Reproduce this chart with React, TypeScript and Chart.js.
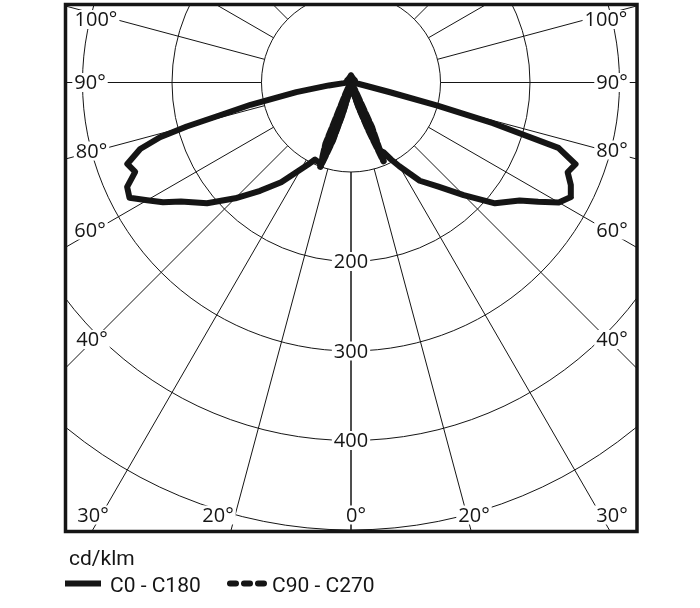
import React, { useEffect, useRef } from "react";
import { Chart, registerables } from "chart.js";

Chart.register(...registerables);

// ---- Data (cd/klm versus gamma angle, degrees) ----
const gammaAngles = [0, 5, 10, 12.5, 15, 17.5, 20, 22.5, 25, 27.5, 30, 35, 40, 45, 50, 55, 57.5, 60, 62.5, 65, 67.5, 70, 72.5, 74, 75, 76, 77.5, 80, 82.5, 85, 90, 120, 150, 180];
const c0Values = [3, 3, 4, 8, 15, 30, 50, 82, 86, 97, 108, 134, 152, 178, 210, 230, 248, 268, 277, 271, 262, 267, 243, 165, 100, 45, 18, 8, 6, 5, 5, 5, 5, 8];
const c180Values = [3, 3, 5, 15, 35, 65, 97, 96, 95, 103, 112, 136, 158, 183, 210, 232, 249, 263, 279, 276, 261, 266, 247, 222, 190, 150, 115, 62, 25, 8, 5, 5, 5, 8];

const gammaSpike = [0, 5, 10, 12.5, 15, 17.5, 20, 22.5, 25, 27.5, 30, 45, 90, 135, 180];
const c90Values = [3, 3, 4, 8, 15, 30, 55, 95, 55, 10, 4, 3, 3, 3, 5];
const c270Values = [3, 3, 5, 15, 35, 68, 100, 74, 15, 5, 4, 3, 3, 3, 5];

const ringValues = [100, 200, 300, 400, 500];
const ringLabelValues = [200, 300, 400];
const spokeAngles = [0, 15, 30, 45, 60, 75, 90, 105, 120, 135, 150, 165, 180];
const angleTickLabels = ["100°", "90°", "80°", "60°", "40°", "30°", "20°", "0°"];
const unitLabel = "cd/klm";
const seriesNames = ["C0 - C180", "C90 - C270"];

// ---- Layout ----
const W = 700;
const H = 608;
const CX = 351;
const CY = 82.5;
const PX_PER_UNIT = 0.895;
const BOX = { l: 65.5, t: 4.5, r: 637, b: 531.5 };
const INK = "#151515";
const LABEL_FONT = "20px 'Open Sans'";
const LEGEND_FONT = "21px Roboto";

const leftLabelPos = [
  [96, 19.5], [90, 82.5], [91.5, 151], [90, 230], [92, 339.5], [93, 515], [218, 515],
];
const rightLabelPos = [
  [606, 19.5], [612, 82.5], [612, 150], [612, 230], [612, 339.5], [612, 515], [474, 515],
];
const zeroLabelPos = [356, 515];

function toXY(angles: number[], vals: number[], side: number) {
  return angles.map((a, i) => ({
    x: side * vals[i] * Math.sin((a * Math.PI) / 180),
    y: -vals[i] * Math.cos((a * Math.PI) / 180),
  }));
}
function loop(angles: number[], left: number[], right: number[]) {
  return [...toXY(angles, left, -1).reverse(), ...toXY(angles, right, 1)];
}

function labelWithBg(ctx: CanvasRenderingContext2D, text: string, x: number, y: number) {
  ctx.font = LABEL_FONT;
  const w = ctx.measureText(text).width;
  ctx.fillStyle = "#ffffff";
  ctx.fillRect(x - w / 2 - 2, y - 9.5, w + 4, 19);
  ctx.fillStyle = INK;
  ctx.textAlign = "center";
  ctx.textBaseline = "middle";
  ctx.fillText(text, x, y + 1);
}

const polarGrid = {
  id: "polarGrid",
  beforeDatasetsDraw(chart: any) {
    const { ctx, scales } = chart;
    const xs = scales.x;
    const ys = scales.y;
    const cx = xs.getPixelForValue(0);
    const cy = ys.getPixelForValue(0);
    const rpx = (v: number) => xs.getPixelForValue(v) - cx;
    ctx.save();
    ctx.beginPath();
    ctx.rect(BOX.l, BOX.t, BOX.r - BOX.l, BOX.b - BOX.t);
    ctx.clip();
    ctx.strokeStyle = INK;
    ctx.lineWidth = 1;
    for (const v of ringValues) {
      ctx.beginPath();
      ctx.arc(cx, cy, rpx(v), 0, Math.PI * 2);
      ctx.stroke();
    }
    const r0 = rpx(ringValues[0]);
    const r1 = rpx(1000);
    for (const a of spokeAngles) {
      for (const side of [-1, 1]) {
        const t = (a * Math.PI) / 180;
        const dx = side * Math.sin(t);
        const dy = Math.cos(t);
        ctx.beginPath();
        ctx.moveTo(cx + dx * r0, cy + dy * r0);
        ctx.lineTo(cx + dx * r1, cy + dy * r1);
        ctx.stroke();
      }
    }
    for (const v of ringLabelValues) {
      labelWithBg(ctx, String(v), cx, cy + rpx(v));
    }
    for (let i = 0; i < leftLabelPos.length; i++) {
      labelWithBg(ctx, angleTickLabels[i], leftLabelPos[i][0], leftLabelPos[i][1]);
      labelWithBg(ctx, angleTickLabels[i], rightLabelPos[i][0], rightLabelPos[i][1]);
    }
    labelWithBg(ctx, angleTickLabels[7], zeroLabelPos[0], zeroLabelPos[1]);
    ctx.restore();

    ctx.save();
    ctx.strokeStyle = INK;
    ctx.lineWidth = 3.5;
    ctx.strokeRect(BOX.l, BOX.t, BOX.r - BOX.l, BOX.b - BOX.t);
    ctx.restore();
  },
  afterDraw(chart: any) {
    const { ctx } = chart;
    ctx.save();
    ctx.fillStyle = INK;
    ctx.font = LEGEND_FONT;
    ctx.textAlign = "left";
    ctx.textBaseline = "alphabetic";
    ctx.fillText(unitLabel, 69, 565);
    ctx.strokeStyle = INK;
    ctx.lineWidth = 6;
    ctx.lineCap = "butt";
    ctx.beginPath();
    ctx.moveTo(65, 583.5);
    ctx.lineTo(101, 583.5);
    ctx.stroke();
    ctx.fillText(seriesNames[0], 110, 592);
    ctx.lineCap = "round";
    ctx.setLineDash([6, 8]);
    ctx.beginPath();
    ctx.moveTo(230, 583.5);
    ctx.lineTo(265, 583.5);
    ctx.stroke();
    ctx.setLineDash([]);
    ctx.fillText(seriesNames[1], 272, 592);
    ctx.restore();
  },
};

export default function App() {
  const ref = useRef<HTMLCanvasElement>(null);
  useEffect(() => {
    if (!ref.current) return;
    const xmin = -CX / PX_PER_UNIT;
    const xmax = (W - CX) / PX_PER_UNIT;
    const ymax = CY / PX_PER_UNIT;
    const ymin = -(H - CY) / PX_PER_UNIT;
    const chart = new Chart(ref.current, {
      type: "scatter",
      data: {
        datasets: [
          {
            label: seriesNames[0],
            data: loop(gammaAngles, c180Values, c0Values),
            showLine: true,
            borderColor: INK,
            backgroundColor: INK,
            borderWidth: 6,
            pointRadius: 0,
            borderJoinStyle: "round",
            borderCapStyle: "round",
            tension: 0,
          } as any,
          {
            label: seriesNames[1],
            data: loop(gammaSpike, c270Values, c90Values),
            showLine: true,
            borderColor: INK,
            backgroundColor: INK,
            borderWidth: 6.5,
            pointRadius: 0,
            borderDash: [8, 3],
            borderJoinStyle: "round",
            borderCapStyle: "round",
            tension: 0,
          } as any,
        ],
      },
      options: {
        responsive: false,
        animation: false,
        devicePixelRatio: 1,
        events: [],
        layout: { padding: 0 },
        scales: {
          x: { type: "linear", min: xmin, max: xmax, display: false },
          y: { type: "linear", min: ymin, max: ymax, display: false },
        },
        plugins: {
          legend: { display: false },
          tooltip: { enabled: false },
        },
      },
      plugins: [polarGrid],
    });
    return () => chart.destroy();
  }, []);
  return (
    <div style={{ position: "absolute", left: 0, top: 0, width: W, height: H, background: "#fff" }}>
      <canvas ref={ref} width={W} height={H} style={{ display: "block" }} />
    </div>
  );
}
